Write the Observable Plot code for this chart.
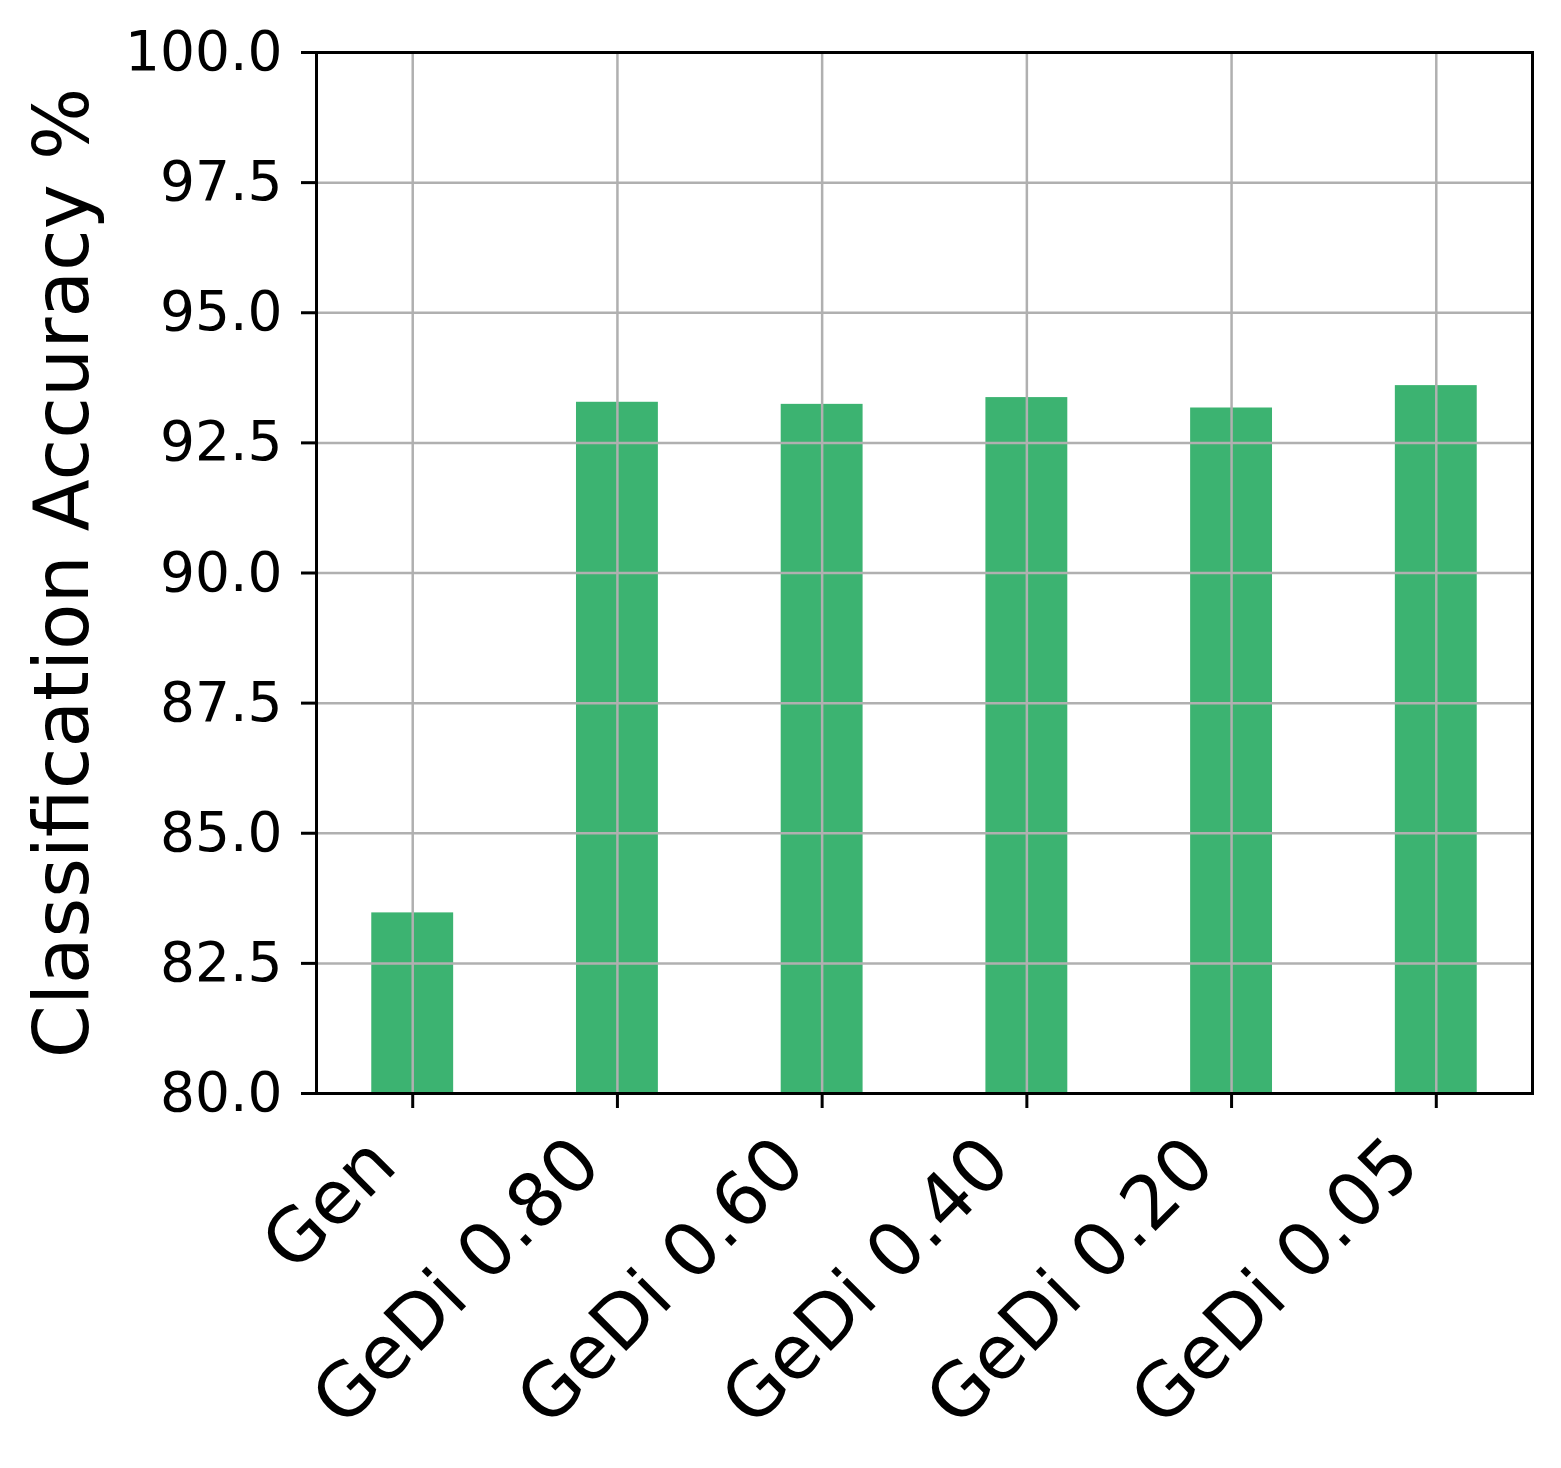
<!DOCTYPE html>
<html>
<head>
<meta charset="utf-8">
<script src="https://cdn.jsdelivr.net/npm/d3@7"></script>
<script src="https://cdn.jsdelivr.net/npm/@observablehq/plot@0.6"></script>
<style>
  html, body { margin: 0; padding: 0; background: #fff; }
  svg { display: block; }
</style>
</head>
<body>
<div id="chart"></div>
<script>
const categories = ["Gen", "GeDi 0.80", "GeDi 0.60", "GeDi 0.40", "GeDi 0.20", "GeDi 0.05"];
const accuracy = [83.47, 93.28, 93.24, 93.37, 93.17, 93.60];
const yTicks = [80, 82.5, 85, 87.5, 90, 92.5, 95, 97.5, 100];
const yLabel = "Classification Accuracy %";

const data = categories.map((c, i) => ({category: c, value: accuracy[i]}));

const chart = Plot.plot({
  width: 1561,
  height: 1468,
  marginLeft: 316,
  marginRight: 29,
  marginTop: 52,
  marginBottom: 375,
  style: {fontFamily: "DejaVu Sans", background: "#fff", color: "#000"},
  x: {type: "band", domain: categories, paddingInner: 0.6, paddingOuter: 0.27, round: false},
  y: {domain: [80, 100]},
  marks: [
    Plot.barY(data, {x: "category", y1: 80, y2: "value", fill: "#3CB371"}),
    Plot.gridY(yTicks, {stroke: "#b0b0b0", strokeOpacity: 1, strokeWidth: 2.5}),
    Plot.gridX(categories, {stroke: "#b0b0b0", strokeOpacity: 1, strokeWidth: 2.5}),
    Plot.frame({stroke: "#000", strokeWidth: 3}),
    Plot.axisY(yTicks, {
      tickSize: 15, tickPadding: 19, strokeWidth: 3,
      fontSize: 55, tickFormat: d => d.toFixed(1), label: null
    }),
    Plot.axisX(categories, {tickSize: 15, strokeWidth: 3, tickFormat: () => "", label: null}),
    Plot.text(categories, {
      x: d => d, y: () => 80, text: d => d,
      rotate: -45, textAnchor: "end", lineAnchor: "middle",
      fontSize: 74, dx: -30, dy: 58, fill: "#000"
    }),
    Plot.text([yLabel], {
      frameAnchor: "left", text: d => d, rotate: -90,
      textAnchor: "middle", lineAnchor: "bottom",
      fontSize: 76, dx: -229, fill: "#000"
    })
  ]
});
document.getElementById("chart").appendChild(chart);
</script>
</body>
</html>
